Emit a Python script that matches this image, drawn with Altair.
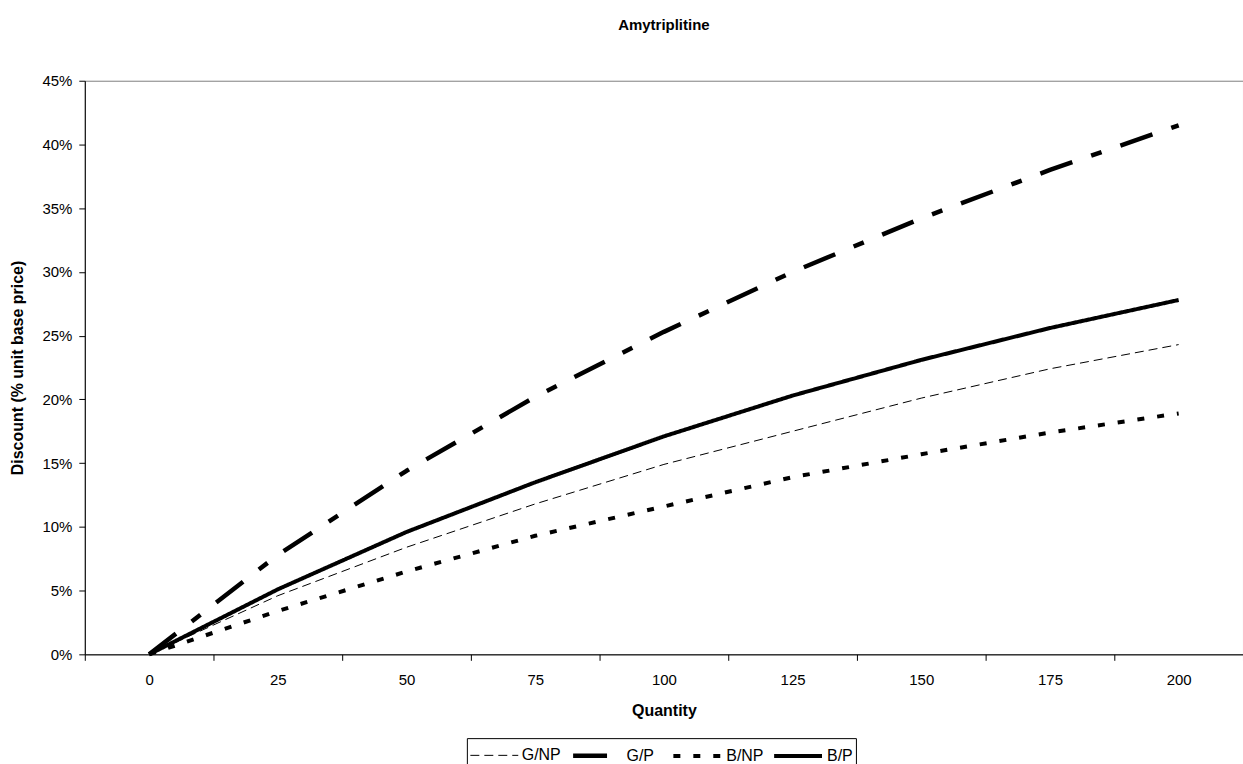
import altair as alt
import pandas as pd

quantity = [0, 25, 50, 75, 100, 125, 150, 175, 200]
series_names = ["G/NP", "G/P", "B/NP", "B/P"]
g_np = [0, 4.6, 8.4, 11.8, 14.9, 17.5, 20.1, 22.4, 24.3]
g_p = [0, 7.8, 14.4, 20.2, 25.3, 30.0, 34.2, 38.0, 41.5]
b_np = [0, 3.4, 6.5, 9.3, 11.6, 13.9, 15.7, 17.4, 18.9]
b_p = [0, 5.1, 9.6, 13.5, 17.1, 20.3, 23.1, 25.6, 27.8]
y_ticks = [0, 0.05, 0.10, 0.15, 0.20, 0.25, 0.30, 0.35, 0.40, 0.45]

rows = []
for name, vals in zip(series_names, [g_np, g_p, b_np, b_p]):
    for q, v in zip(quantity, vals):
        rows.append({"Quantity": q, "Discount": v / 100.0, "Series": name})
df = pd.DataFrame(rows)

dash_range = [[9, 5], [34, 20, 11, 20], [7, 13], [1, 0]]
width_range = [1, 4.5, 4, 4]

FONT = "Liberation Sans"

chart = alt.Chart(df).mark_line(color="black", strokeCap="butt", strokeJoin="round").encode(
    x=alt.X(
        "Quantity:O",
        sort=quantity,
        scale=alt.Scale(type="band", paddingInner=0, paddingOuter=0),
        axis=alt.Axis(
            title="Quantity", labelAngle=0, tickBand="extent", tickSize=6,
            labelPadding=12, titlePadding=15, domainColor="black", tickColor="black",
            grid=False, labelFontSize=15, titleFontSize=16,
        ),
    ),
    y=alt.Y(
        "Discount:Q",
        scale=alt.Scale(domain=[0, 0.45], nice=False, zero=True),
        axis=alt.Axis(
            title="Discount (% unit base price)", values=y_ticks, format=".0%",
            tickSize=6, labelPadding=7, titlePadding=16, domainColor="black",
            tickColor="black", grid=False, labelFontSize=15, titleFontSize=16,
        ),
    ),
    strokeDash=alt.StrokeDash(
        "Series:N",
        scale=alt.Scale(type="ordinal", domain=series_names, range=dash_range),
        legend=alt.Legend(title=None),
    ),
    strokeWidth=alt.StrokeWidth(
        "Series:N",
        scale=alt.Scale(type="ordinal", domain=series_names, range=width_range),
        legend=alt.Legend(title=None),
    ),
    order=alt.Order("Quantity:Q"),
).properties(
    width=1161,
    height=575,
    title=alt.TitleParams(
        "Amytriplitine", font=FONT, fontSize=15, fontWeight="bold", color="black",
        anchor="middle", baseline="alphabetic", offset=29,
    ),
    autosize=alt.AutoSizeParams(type="none"),
    padding={"left": 85, "top": 80, "right": 0, "bottom": 109},
).configure_view(
    stroke="#808080", strokeWidth=1
).configure_axis(
    labelFont=FONT, labelColor="black",
    titleFont=FONT, titleFontWeight="bold", titleColor="black",
    domainWidth=1, tickWidth=1,
).configure_legend(
    orient="none", legendX=383, legendY=659, direction="horizontal",
    strokeColor="black", fillColor="white", padding=3,
    labelFont=FONT, labelFontSize=16, labelColor="black",
    symbolType="M-2,0H2", symbolSize=576, symbolOffset=12, symbolStrokeColor="black",
    labelOffset=15, columnPadding=1, gridAlign="all",
)

chart.save("out.html", embed_options={"renderer": "svg", "actions": False})
